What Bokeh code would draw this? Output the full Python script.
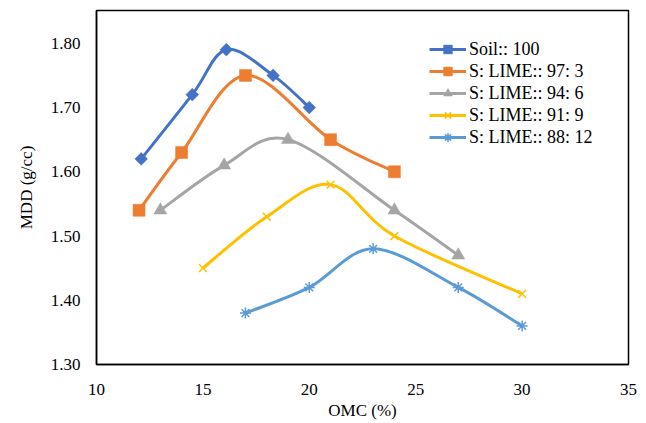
import numpy as np
from bokeh.plotting import figure
from bokeh.models import Range1d, FixedTicker, PrintfTickFormatter, Legend, LegendItem, ColumnDataSource
from bokeh.embed import file_html
from bokeh.resources import INLINE

# ---- data ----
series_names = ["Soil:: 100", "S: LIME:: 97: 3", "S: LIME:: 94: 6", "S: LIME:: 91: 9", "S: LIME:: 88: 12"]

omc_soil = [12.1, 14.5, 16.1, 18.3, 20.0]
mdd_soil = [1.62, 1.72, 1.79, 1.75, 1.70]

omc_97_3 = [12, 14, 17, 21, 24]
mdd_97_3 = [1.54, 1.63, 1.75, 1.65, 1.60]

omc_94_6 = [13, 16, 19, 24, 27]
mdd_94_6 = [1.54, 1.61, 1.65, 1.54, 1.47]

omc_91_9 = [15, 18, 21, 24, 30]
mdd_91_9 = [1.45, 1.53, 1.58, 1.50, 1.41]

omc_88_12 = [17, 20, 23, 27, 30]
mdd_88_12 = [1.38, 1.42, 1.48, 1.42, 1.36]

x_ticks = [10, 15, 20, 25, 30, 35]
y_ticks = [1.30, 1.40, 1.50, 1.60, 1.70, 1.80]

# ---- styles ----
colors = ["#4472C4", "#ED7D31", "#A5A5A5", "#FFC000", "#5B9BD5"]
markers = ["square", "square", "triangle", "x", "asterisk"]
mangles = [np.pi / 4, 0, 0, 0, 0]
msizes = [9, 12, 13, 11, 11]
FONT = "Liberation Serif"

p = figure(frame_width=532, frame_height=354, output_backend="svg", toolbar_location=None,
           x_range=Range1d(10, 35), y_range=Range1d(1.30, 1.851),
           min_border_left=96, min_border_right=14, min_border_top=10, min_border_bottom=50)
p.background_fill_color = "white"
p.border_fill_color = "white"
p.outline_line_color = "black"
p.outline_line_width = 1.5
p.xgrid.visible = False
p.ygrid.visible = False

for ax in (p.xaxis[0], p.yaxis[0]):
    ax.major_tick_line_color = None
    ax.minor_tick_line_color = None
    ax.axis_line_color = "black"
    ax.axis_line_width = 1.5
    ax.major_label_text_font = FONT
    ax.major_label_text_font_size = "17px"
    ax.major_label_text_color = "black"
    ax.axis_label_text_font = FONT
    ax.axis_label_text_font_size = "17px"
    ax.axis_label_text_font_style = "normal"
    ax.axis_label_text_color = "black"

p.xaxis.ticker = FixedTicker(ticks=x_ticks)
p.yaxis.ticker = FixedTicker(ticks=y_ticks)
p.yaxis.formatter = PrintfTickFormatter(format="%.2f")
p.xaxis.axis_label = "OMC (%)"
p.yaxis.axis_label = "MDD (g/cc)"
p.xaxis.major_label_standoff = 13
p.yaxis.major_label_standoff = 10
p.xaxis.axis_label_standoff = 3
p.yaxis.axis_label_standoff = 12


def smooth_segments(xs, ys):
    """Bezier control points (Catmull-Rom style) for a smoothed line through the data."""
    x = np.asarray(xs, float)
    y = np.asarray(ys, float)
    n = len(x)
    xp = np.concatenate([[x[0]], x, [x[-1]]])
    yp = np.concatenate([[y[0]], y, [y[-1]]])
    d = dict(x0=[], y0=[], x1=[], y1=[], cx0=[], cy0=[], cx1=[], cy1=[])
    for i in range(n - 1):
        j = i + 1
        d["x0"].append(x[i]); d["y0"].append(y[i])
        d["x1"].append(x[i + 1]); d["y1"].append(y[i + 1])
        d["cx0"].append(x[i] + (xp[j + 1] - xp[j - 1]) / 6)
        d["cy0"].append(y[i] + (yp[j + 1] - yp[j - 1]) / 6)
        d["cx1"].append(x[i + 1] - (xp[j + 2] - xp[j]) / 6)
        d["cy1"].append(y[i + 1] - (yp[j + 2] - yp[j]) / 6)
    return d


all_x = [omc_soil, omc_97_3, omc_94_6, omc_91_9, omc_88_12]
all_y = [mdd_soil, mdd_97_3, mdd_94_6, mdd_91_9, mdd_88_12]

items = []
for name, xs, ys, c, m, a, s in zip(series_names, all_x, all_y, colors, markers, mangles, msizes):
    seg = ColumnDataSource(smooth_segments(xs, ys))
    p.bezier(x0="x0", y0="y0", x1="x1", y1="y1", cx0="cx0", cy0="cy0", cx1="cx1", cy1="cy1",
             source=seg, line_color=c, line_width=3)
    # legend-only line sample (no drawable points)
    leg_line = p.line(x=[np.nan], y=[np.nan], line_color=c, line_width=3)
    if m in ("x", "asterisk"):
        r = p.scatter(xs, ys, marker=m, size=s, line_color=c, line_width=1.5, fill_color=c)
    else:
        r = p.scatter(xs, ys, marker=m, size=s, angle=a, line_color=c, fill_color=c, line_width=0.5)
    items.append(LegendItem(label=name, renderers=[leg_line, r]))

legend = Legend(items=items, location=(333, 216))
legend.label_text_font = FONT
legend.label_text_font_size = "18px"
legend.label_text_color = "black"
legend.glyph_width = 37
legend.glyph_height = 22
legend.label_height = 22
legend.label_standoff = 3
legend.spacing = 0
legend.padding = 4
legend.margin = 0
legend.border_line_color = None
legend.background_fill_alpha = 0
p.add_layout(legend)

open("out.html", "w").write(file_html(p, INLINE))
